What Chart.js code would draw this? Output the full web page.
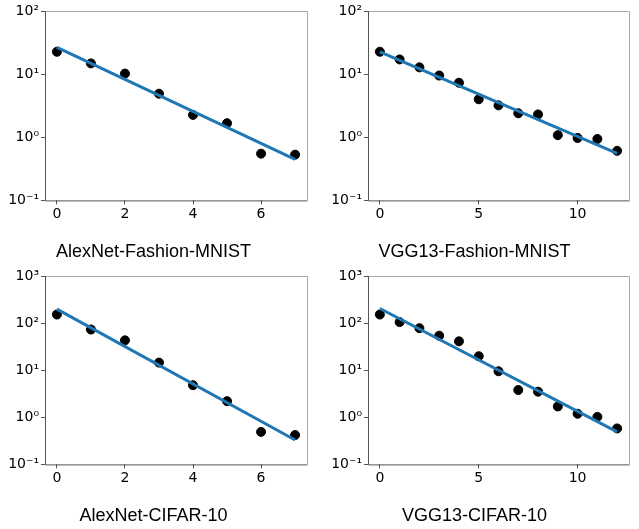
<!DOCTYPE html>
<html>
<head>
<meta charset="utf-8">
<script src="https://cdn.jsdelivr.net/npm/chart.js@4"></script>
<style>
  body { margin: 0; background: #fff; }
  canvas { position: absolute; }
</style>
</head>
<body>
<canvas id="c1" width="320" height="265" style="left:0;top:0"></canvas>
<canvas id="c2" width="319" height="265" style="left:320px;top:0"></canvas>
<canvas id="c3" width="320" height="264" style="left:0;top:265px"></canvas>
<canvas id="c4" width="319" height="264" style="left:320px;top:265px"></canvas>
<script>
// epochs
var alexEpochs = [0, 1, 2, 3, 4, 5, 6, 7];
var vggEpochs = [0, 1, 2, 3, 4, 5, 6, 7, 8, 9, 10, 11, 12];

// measured values
var alexFashion = [22.6, 14.8, 10.2, 4.9, 2.26, 1.67, 0.55, 0.53];
var vggFashion = [22.6, 17.1, 12.8, 9.5, 7.3, 4.0, 3.2, 2.4, 2.3, 1.08, 0.975, 0.94, 0.61];
var alexCifar = [152, 73, 43, 14.5, 4.8, 2.2, 0.49, 0.42];
var vggCifar = [152, 105, 78, 54, 41, 19.8, 9.5, 3.8, 3.5, 1.7, 1.19, 1.02, 0.58];

// fitted line end values (at first and last epoch)
var alexFashionFit = [26.5, 0.447];
var vggFashionFit = [22.6, 0.557];
var alexCifarFit = [198, 0.33];
var vggCifarFit = [204, 0.49];

// ticks
var alexXTicks = [0, 2, 4, 6];
var vggXTicks = [0, 5, 10];
var fashionYTicks = [0.1, 1, 10, 100];
var cifarYTicks = [0.1, 1, 10, 100, 1000];

var titles = ['AlexNet-Fashion-MNIST', 'VGG13-Fashion-MNIST', 'AlexNet-CIFAR-10', 'VGG13-CIFAR-10'];

var sup = { '-': '\u207B', '0': '\u2070', '1': '\u00B9', '2': '\u00B2', '3': '\u00B3' };
function powLabel(v) {
    var e = String(Math.round(Math.log10(v)));
    return '10' + e.split('').map(function (c) { return sup[c]; }).join('');
}

// box around the axes: dark left/bottom, light top/right
var frame = {
    id: 'frame',
    afterDatasetsDraw: function (chart) {
        var a = chart.chartArea, c = chart.ctx;
        c.save();
        c.lineWidth = 1;
        c.strokeStyle = '#aaaaaa';
        c.beginPath();
        c.moveTo(a.left, a.top + 0.5); c.lineTo(a.right + 0.5, a.top + 0.5);
        c.lineTo(a.right + 0.5, a.bottom);
        c.stroke();
        c.strokeStyle = '#555555';
        c.beginPath();
        c.moveTo(a.left + 0.5, a.top); c.lineTo(a.left + 0.5, a.bottom + 0.5);
        c.lineTo(a.right + 0.5, a.bottom + 0.5);
        c.stroke();
        c.restore();
    }
};

function makeChart(id, title, xs, ys, fit, xTicks, yTicks, yMin, yMax, leftW, rightPad) {
    var xMax = xs[xs.length - 1];
    var pts = xs.map(function (x, i) { return { x: x, y: ys[i] }; });
    var line = [{ x: xs[0], y: fit[0] }, { x: xMax, y: fit[1] }];
    return new Chart(document.getElementById(id), {
        type: 'scatter',
        data: {
            datasets: [{
                data: line,
                showLine: true,
                borderColor: '#1f77b4',
                borderWidth: 3,
                pointRadius: 0,
                order: 0
            }, {
                data: pts,
                backgroundColor: '#000',
                borderColor: '#000',
                pointRadius: 4.5,
                order: 1
            }]
        },
        options: {
            responsive: false,
            animation: false,
            layout: { padding: { top: 11, left: 0, right: rightPad, bottom: 0 } },
            plugins: {
                legend: { display: false },
                tooltip: { enabled: false },
                title: {
                    display: true,
                    text: title,
                    position: 'bottom',
                    color: '#000',
                    font: { family: 'Liberation Sans', size: 18, weight: 'normal' },
                    padding: { top: 0, bottom: 2 }
                }
            },
            scales: {
                x: {
                    type: 'linear',
                    min: -0.05 * xMax,
                    max: 1.05 * xMax,
                    afterBuildTicks: function (s) { s.ticks = xTicks.map(function (v) { return { value: v }; }); },
                    afterFit: function (s) { s.height = 41; },
                    border: { display: false },
                    grid: { drawOnChartArea: false, drawTicks: true, tickLength: 4, color: '#555' },
                    ticks: { color: '#000', padding: 2, maxRotation: 0, font: { family: 'DejaVu Sans', size: 14 } }
                },
                y: {
                    type: 'logarithmic',
                    min: yMin,
                    max: yMax,
                    afterBuildTicks: function (s) { s.ticks = yTicks.map(function (v) { return { value: v }; }); },
                    afterFit: function (s) { s.width = leftW; },
                    border: { display: false },
                    grid: { drawOnChartArea: false, drawTicks: true, tickLength: 4, color: '#555' },
                    ticks: {
                        color: '#000', padding: 2,
                        font: { family: 'DejaVu Sans', size: 14 },
                        callback: function (v) { return powLabel(v); }
                    }
                }
            }
        },
        plugins: [frame]
    });
}

makeChart('c1', titles[0], alexEpochs, alexFashion, alexFashionFit, alexXTicks, fashionYTicks, 0.1, 100, 45, 13);
makeChart('c2', titles[1], vggEpochs, vggFashion, vggFashionFit, vggXTicks, fashionYTicks, 0.1, 100, 48, 10);
makeChart('c3', titles[2], alexEpochs, alexCifar, alexCifarFit, alexXTicks, cifarYTicks, 0.1, 1000, 45, 13);
makeChart('c4', titles[3], vggEpochs, vggCifar, vggCifarFit, vggXTicks, cifarYTicks, 0.1, 1000, 48, 10);
</script>
</body>
</html>
